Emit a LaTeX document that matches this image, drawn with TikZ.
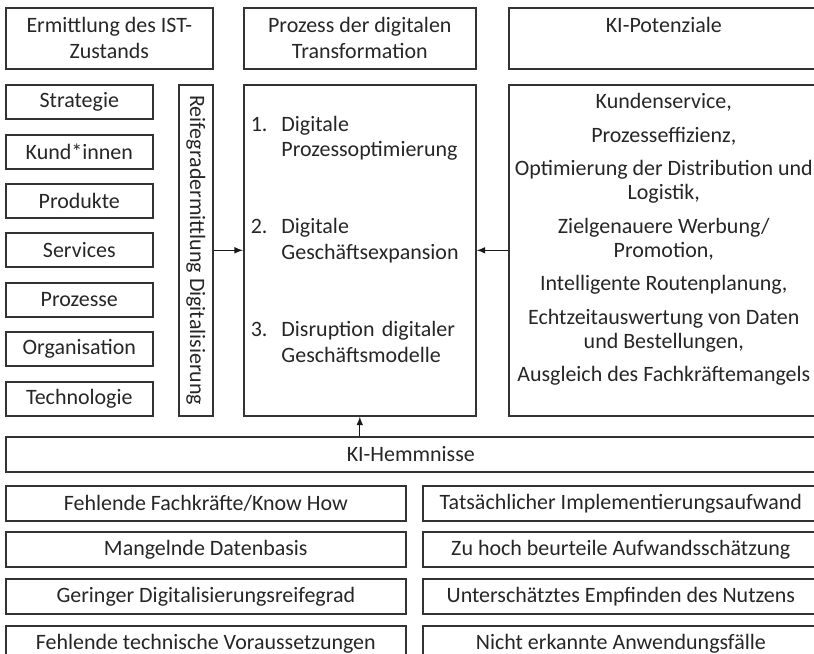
\documentclass[tikz,border=0pt]{standalone}
\usepackage{fontspec}
\setmainfont{Carlito}
\begin{document}
\begin{tikzpicture}[
  x=0.02cm, y=-0.02cm,
  >=latex,
  box/.style={draw=black!80, line width=0.9pt, inner sep=1pt, align=center,
    text=black!85, font=\fontsize{12.5}{14.7}\selectfont},
  kopf/.style={box, anchor=north west, minimum height=61*\px},
  feld/.style={box, anchor=north west, minimum width=147*\px, minimum height=34*\px},
  hemm/.style={box, anchor=north west, minimum height=35*\px},
  pfeil/.style={->, line width=0.7pt, black!90},
]

% ── Parameters (unit = 1 px of the reference) ────────────────────────────────
\def\px{0.02cm}
\def\lw{400}          % width of the left obstacle boxes
\def\rw{396}          % width of the right obstacle boxes

\useasboundingbox (0,0) rectangle (814,653);
\clip (0,0) rectangle (814,653);

% ── Column heads ─────────────────────────────────────────────────────────────
\node[kopf, minimum width=207*\px] (ist) at (5,7)
  {Ermittlung des IST-\\Zustands};
\node[kopf, minimum width=232*\px] (trafo) at (243,7)
  {Prozess der digitalen\\Transformation};
\node[kopf, minimum width=310*\px] (potkopf) at (508,7)
  {KI-Potenziale\\\phantom{Zustands}};

% ── IST state: fields of the company ─────────────────────────────────────────
\node[feld] (strategie)    at (5,84)  {Strategie};
\node[feld] (kunden)       at (5,134) {Kund*innen};
\node[feld] (produkte)     at (5,183) {Produkte};
\node[feld] (services)     at (5,232) {Services};
\node[feld] (prozesse)     at (5,282) {Prozesse};
\node[feld] (organisation) at (5,331) {Organisation};
\node[feld] (technologie)  at (5,381) {Technologie};

% maturity assessment (vertical text)
\node[box, anchor=north west, minimum width=34*\px, minimum height=331*\px]
  (reife) at (178,84) {\rotatebox{-90}{Reifegradermittlung Digitalisierung}};

% ── Transformation steps ─────────────────────────────────────────────────────
\node[box, anchor=north west, align=left, inner xsep=7*\px, inner ysep=0pt,
  text width=218*\px, minimum height=331*\px] (prozess) at (243,84)
  {\begin{tabular}{@{}l@{\hspace{0.28cm}}l@{}}
     1. & Digitale\\
        & Prozessoptimierung\\[29pt]
     2. & Digitale\\
        & Geschäftsexpansion\\[29pt]
     3. & Disruption digitaler\\
        & Geschäftsmodelle\\[10pt]
   \end{tabular}};

% ── AI potentials ────────────────────────────────────────────────────────────
\node[box, anchor=north west, minimum width=310*\px, minimum height=331*\px,
  font=\fontsize{12.5}{13.6}\selectfont] (potenz) at (508,84)
  {Kundenservice,\\[5.5pt]
   Prozesseffizienz,\\[5.5pt]
   Optimierung der Distribution und\\Logistik,\\[5.5pt]
   Zielgenauere Werbung/\\Promotion,\\[5.5pt]
   Intelligente Routenplanung,\\[5.5pt]
   Echtzeitauswertung von Daten\\und Bestellungen,\\[5.5pt]
   Ausgleich des Fachkräftemangels\\[1pt]\mbox{}};

% ── AI obstacles ─────────────────────────────────────────────────────────────
\node[hemm, minimum width=810*\px] (hemmnisse) at (5,436) {KI-Hemmnisse};

\node[hemm, minimum width=\lw*\px] (fachkraefte) at (5,485)
  {Fehlende Fachkräfte/Know How};
\node[hemm, minimum width=\lw*\px] (datenbasis)  at (5,531)
  {Mangelnde Datenbasis};
\node[hemm, minimum width=\lw*\px] (reifegrad)   at (5,578)
  {Geringer Digitalisierungsreifegrad};
\node[hemm, minimum width=\lw*\px] (technik)     at (5,625)
  {Fehlende technische Voraussetzungen};

\node[hemm, minimum width=\rw*\px] (aufwand)     at (422,485)
  {Tatsächlicher Implementierungsaufwand};
\node[hemm, minimum width=\rw*\px] (schaetzung)  at (422,531)
  {Zu hoch beurteile Aufwandsschätzung};
\node[hemm, minimum width=\rw*\px] (nutzen)      at (422,578)
  {Unterschätztes Empfinden des Nutzens};
\node[hemm, minimum width=\rw*\px] (faelle)      at (422,625)
  {Nicht erkannte Anwendungsfälle};

% ── Connectors ───────────────────────────────────────────────────────────────
\draw[pfeil] (reife) -- (prozess);
\draw[pfeil] (potenz) -- (prozess);
\draw[pfeil] (hemmnisse.north -| prozess.south) -- (prozess.south);

\end{tikzpicture}
\end{document}
